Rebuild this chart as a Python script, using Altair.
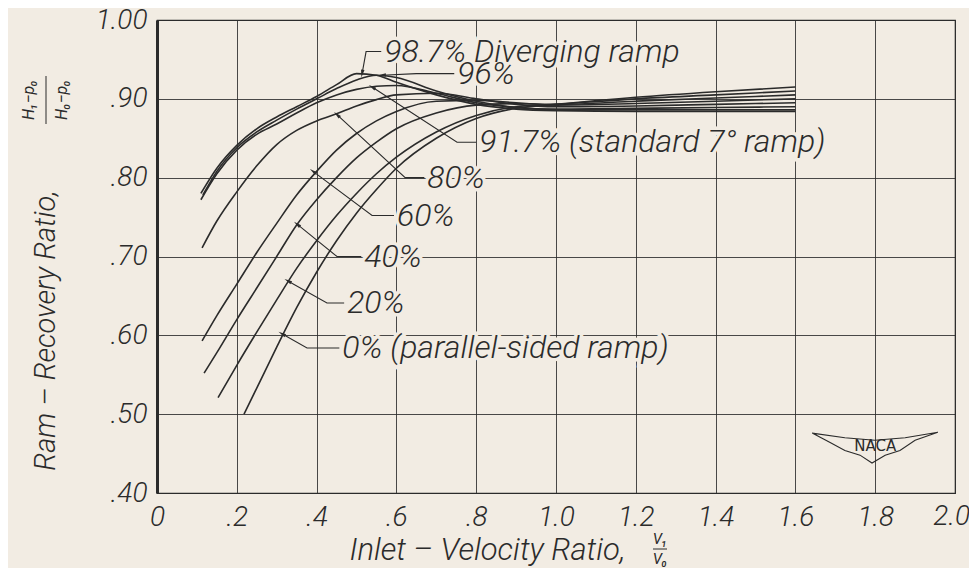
import math
import altair as alt
import pandas as pd

# ---------------- data ----------------
series_names = ["0%", "20%", "40%", "60%", "80%", "91.7%", "96%", "98.7%"]

x_0 = [0.218, 0.25, 0.3, 0.35, 0.4, 0.45, 0.5, 0.55, 0.6, 0.7, 0.8, 0.9, 1.0, 1.2, 1.4, 1.6]
y_0 = [0.50, 0.533, 0.585, 0.635, 0.68, 0.72, 0.755, 0.785, 0.812, 0.85, 0.875, 0.888, 0.893, 0.902, 0.909, 0.915]

x_20 = [0.153, 0.2, 0.25, 0.3, 0.35, 0.4, 0.45, 0.5, 0.55, 0.6, 0.7, 0.8, 0.9, 1.0, 1.2, 1.4, 1.6]
y_20 = [0.521, 0.562, 0.604, 0.645, 0.685, 0.72, 0.752, 0.78, 0.805, 0.826, 0.858, 0.879, 0.89, 0.893, 0.90, 0.905, 0.91]

x_40 = [0.118, 0.15, 0.2, 0.25, 0.3, 0.35, 0.4, 0.45, 0.5, 0.55, 0.6, 0.7, 0.8, 0.9, 1.0, 1.2, 1.4, 1.6]
y_40 = [0.552, 0.578, 0.62, 0.66, 0.70, 0.74, 0.772, 0.80, 0.825, 0.845, 0.862, 0.882, 0.892, 0.894, 0.893, 0.897, 0.901, 0.905]

x_60 = [0.113, 0.15, 0.2, 0.25, 0.3, 0.35, 0.4, 0.45, 0.5, 0.55, 0.6, 0.7, 0.8, 0.9, 1.0, 1.2, 1.4, 1.6]
y_60 = [0.593, 0.625, 0.665, 0.705, 0.742, 0.778, 0.808, 0.835, 0.856, 0.872, 0.884, 0.897, 0.898, 0.895, 0.892, 0.894, 0.897, 0.90]

x_80 = [0.113, 0.15, 0.2, 0.25, 0.3, 0.35, 0.4, 0.45, 0.5, 0.55, 0.6, 0.7, 0.8, 0.9, 1.0, 1.2, 1.4, 1.6]
y_80 = [0.711, 0.745, 0.782, 0.815, 0.842, 0.86, 0.872, 0.881, 0.891, 0.899, 0.905, 0.907, 0.90, 0.893, 0.89, 0.891, 0.893, 0.895]

x_917 = [0.11, 0.15, 0.2, 0.25, 0.3, 0.35, 0.4, 0.45, 0.5, 0.55, 0.6, 0.7, 0.8, 0.9, 1.0, 1.2, 1.4, 1.6]
y_917 = [0.772, 0.805, 0.835, 0.855, 0.868, 0.882, 0.895, 0.905, 0.912, 0.916, 0.917, 0.907, 0.895, 0.889, 0.887, 0.888, 0.889, 0.89]

x_96 = [0.115, 0.15, 0.2, 0.25, 0.3, 0.35, 0.4, 0.45, 0.5, 0.55, 0.6, 0.7, 0.8, 0.9, 1.0, 1.2, 1.4, 1.6]
y_96 = [0.778, 0.808, 0.838, 0.858, 0.873, 0.887, 0.90, 0.913, 0.924, 0.93, 0.927, 0.91, 0.897, 0.889, 0.886, 0.886, 0.886, 0.886]

x_987 = [0.11, 0.15, 0.2, 0.25, 0.3, 0.35, 0.4, 0.45, 0.5, 0.55, 0.6, 0.7, 0.8, 0.9, 1.0, 1.2, 1.4, 1.6]
y_987 = [0.78, 0.812, 0.841, 0.862, 0.877, 0.89, 0.903, 0.918, 0.932, 0.93, 0.921, 0.905, 0.893, 0.887, 0.885, 0.884, 0.884, 0.884]

series_x = [x_0, x_20, x_40, x_60, x_80, x_917, x_96, x_987]
series_y = [y_0, y_20, y_40, y_60, y_80, y_917, y_96, y_987]

# annotation labels: text, arrow tip (x, y), elbow (x, y), leader end (x, y)
label_texts = ["98.7%  Diverging ramp", "96%", "91.7% (standard  7° ramp)", "80%", "60%", "40%", "20%", "0% (parallel-sided ramp)"]
tip_x = [0.514, 0.564, 0.539, 0.451, 0.391, 0.351, 0.328, 0.313]
tip_y = [0.932, 0.930, 0.915, 0.880, 0.808, 0.741, 0.669, 0.602]
elb_x = [0.524, 0.650, 0.752, 0.622, 0.539, 0.451, 0.426, 0.376]
elb_y = [0.960, 0.932, 0.845, 0.800, 0.752, 0.700, 0.641, 0.584]
end_x = [0.562, 0.745, 0.800, 0.670, 0.594, 0.512, 0.469, 0.457]
end_y = [0.960, 0.932, 0.845, 0.800, 0.752, 0.700, 0.641, 0.584]

x_ticks = [0, 0.2, 0.4, 0.6, 0.8, 1.0, 1.2, 1.4, 1.6, 1.8, 2.0]
x_tick_labels = ["0", ".2", ".4", ".6", ".8", "1.0", "1.2", "1.4", "1.6", "1.8", "2.0"]
y_ticks = [0.4, 0.5, 0.6, 0.7, 0.8, 0.9, 1.0]
y_tick_labels = [".40", ".50", ".60", ".70", ".80", ".90", "1.00"]

# NACA emblem outline (data units, bottom-right corner)
naca_x = [1.642, 1.724, 1.799, 1.875, 1.957, 1.90, 1.862, 1.825, 1.792, 1.762, 1.724, 1.687, 1.642]
naca_y = [0.476, 0.470, 0.467, 0.470, 0.477, 0.467, 0.454, 0.448, 0.438, 0.448, 0.454, 0.464, 0.476]

# ---------------- styling ----------------
W, H = 798, 473
BG = "#f2ece3"
INK = "#2b2b2b"
FONT = "Roboto"
TICK_FS = 28

rows = []
for name, xs_, ys_ in zip(series_names, series_x, series_y):
    for i, (xv, yv) in enumerate(zip(xs_, ys_)):
        rows.append({"series": name, "x": xv, "y": yv, "i": i})
curves = pd.DataFrame(rows)

xs = alt.Scale(domain=[0, 2.0], nice=False, zero=False)
ys = alt.Scale(domain=[0.4, 1.0], nice=False, zero=False)

# last x label is drawn separately (right-aligned) so it stays inside the page
x_lab = "{" + ",".join(f"'{t:.1f}':'{l}'" for t, l in zip(x_ticks[:-1], x_tick_labels[:-1])) + "}"
y_lab = "{" + ",".join(f"'{t:.1f}':'{l}'" for t, l in zip(y_ticks, y_tick_labels)) + "}"

x_axis = alt.Axis(values=x_ticks, labelExpr=f"({x_lab})[format(datum.value, '.1f')] || ''",
                  grid=True, gridColor=INK, gridWidth=1, gridOpacity=0.85,
                  ticks=False, domain=False, labelFont=FONT, labelFontStyle="italic",
                  labelFontWeight=300, labelFontSize=TICK_FS, labelColor=INK, labelPadding=10,
                  labelFlush=False,
                  title="Inlet – Velocity   Ratio,", titleFont=FONT, titleFontStyle="italic",
                  titleFontWeight=300, titleFontSize=31, titleColor=INK,
                  titleX=330, titleY=57, titleAnchor="middle", titleAlign="center",
                  titleBaseline="middle")
y_axis = alt.Axis(values=y_ticks, labelExpr=f"({y_lab})[format(datum.value, '.1f')]",
                  grid=True, gridColor=INK, gridWidth=1, gridOpacity=0.85,
                  ticks=False, domain=True, domainColor=INK, domainWidth=3,
                  labelFont=FONT, labelFontStyle="italic", labelFontWeight=300,
                  labelFontSize=TICK_FS, labelColor=INK, labelPadding=10, labelBaseline="middle",
                  labelFlush=False,
                  title="Ram – Recovery  Ratio,", titleFont=FONT, titleFontStyle="italic",
                  titleFontWeight=300, titleFontSize=29, titleColor=INK,
                  titleX=-112, titleY=310, titleAngle=270, titleAlign="center",
                  titleBaseline="middle")

base = alt.Chart(curves)

lines = base.mark_line(color=INK, strokeWidth=1.6, interpolate="monotone").encode(
    x=alt.X("x:Q", scale=xs, axis=x_axis),
    y=alt.Y("y:Q", scale=ys, axis=y_axis),
    detail="series:N",
    order="i:Q",
)

last_lab = alt.Chart(pd.DataFrame({"x": [x_ticks[-1]], "t": [x_tick_labels[-1]]})).mark_text(
    align="right", baseline="top", dx=15, font=FONT, fontStyle="italic", fontWeight=300,
    fontSize=TICK_FS, color=INK).encode(
    x=alt.X("x:Q", scale=xs), y=alt.value(H + 10), text="t:N")

# leaders
lrows = []
for k in range(len(label_texts)):
    lrows += [
        {"k": k, "o": 0, "x": tip_x[k], "y": tip_y[k]},
        {"k": k, "o": 1, "x": elb_x[k], "y": elb_y[k]},
        {"k": k, "o": 2, "x": end_x[k], "y": end_y[k]},
    ]
leaders = alt.Chart(pd.DataFrame(lrows)).mark_line(color=INK, strokeWidth=1.1).encode(
    x=alt.X("x:Q", scale=xs), y=alt.Y("y:Q", scale=ys), detail="k:N", order="o:Q")

# arrow heads pointing from elbow towards tip
px_x = W / 2.0
px_y = H / 0.6
arows = []
for k in range(len(label_texts)):
    dx = (tip_x[k] - elb_x[k]) * px_x
    dy = -(tip_y[k] - elb_y[k]) * px_y
    ang = math.degrees(math.atan2(dx, -dy)) % 360
    arows.append({"x": tip_x[k], "y": tip_y[k], "ang": ang})
heads = alt.Chart(pd.DataFrame(arows)).mark_point(
    shape="M0,-1L0.45,1L-0.45,1Z", filled=True, color=INK, size=60, opacity=1).encode(
    x=alt.X("x:Q", scale=xs), y=alt.Y("y:Q", scale=ys),
    angle=alt.Angle("ang:Q", scale=None))

trows = [{"t": label_texts[k], "x": end_x[k], "y": end_y[k]} for k in range(len(label_texts))]
tdf = pd.DataFrame(trows)
text_halo = alt.Chart(tdf).mark_text(
    align="left", baseline="middle", dx=3, font=FONT, fontStyle="italic", fontWeight=300,
    fontSize=32, color=BG, stroke=BG, strokeWidth=7).encode(
    x=alt.X("x:Q", scale=xs), y=alt.Y("y:Q", scale=ys), text="t:N")
texts = alt.Chart(tdf).mark_text(
    align="left", baseline="middle", dx=3, font=FONT, fontStyle="italic", fontWeight=300,
    fontSize=32, color=INK).encode(
    x=alt.X("x:Q", scale=xs), y=alt.Y("y:Q", scale=ys), text="t:N")

# NACA emblem
emb = pd.DataFrame({"x": naca_x, "y": naca_y, "o": list(range(len(naca_x)))})
emblem = alt.Chart(emb).mark_line(color=INK, strokeWidth=1.1).encode(
    x=alt.X("x:Q", scale=xs), y=alt.Y("y:Q", scale=ys), order="o:Q")
emblem_txt = alt.Chart(pd.DataFrame({"x": [1.80], "y": [0.459], "t": ["NACA"]})).mark_text(
    font="DejaVu Sans", fontSize=15, color=INK).encode(
    x=alt.X("x:Q", scale=xs), y=alt.Y("y:Q", scale=ys), text="t:N")

# fractions in the axis titles (outside the plot area, pixel offsets)
frac = pd.DataFrame({"t": ["H₁−p₀", "H₀−p₀"], "px": [-128, -95], "py": [80, 80]})
yfrac = alt.Chart(frac).mark_text(font=FONT, fontStyle="italic", fontSize=16, color=INK,
                                  angle=270, baseline="middle").encode(
    x=alt.X("px:Q", scale=None), y=alt.Y("py:Q", scale=None), text="t:N")
yfrac_bar = alt.Chart(pd.DataFrame({"a": [0]})).mark_rule(color=INK, strokeWidth=1).encode(
    x=alt.value(-111), y=alt.value(56), y2=alt.value(104))

xfr = pd.DataFrame({"t": ["V₁", "V₀"], "px": [503, 503], "py": [H + 46, H + 66]})
xfrac = alt.Chart(xfr).mark_text(font=FONT, fontStyle="italic", fontSize=15, color=INK,
                                 baseline="middle").encode(
    x=alt.X("px:Q", scale=None), y=alt.Y("py:Q", scale=None), text="t:N")
xfrac_bar = alt.Chart(pd.DataFrame({"a": [0]})).mark_rule(color=INK, strokeWidth=1).encode(
    x=alt.value(496), x2=alt.value(510), y=alt.value(H + 56))

chart = alt.layer(lines, last_lab, leaders, heads, text_halo, texts, emblem, emblem_txt,
                  yfrac, yfrac_bar, xfrac, xfrac_bar).properties(
    width=W, height=H, background=BG,
    padding={"left": 149, "top": 12, "right": 14, "bottom": 75},
    autosize=alt.AutoSizeParams(type="none"),
).configure_view(stroke=INK, strokeWidth=1.2)

chart.save("out.html", embed_options={"renderer": "svg", "actions": False})
